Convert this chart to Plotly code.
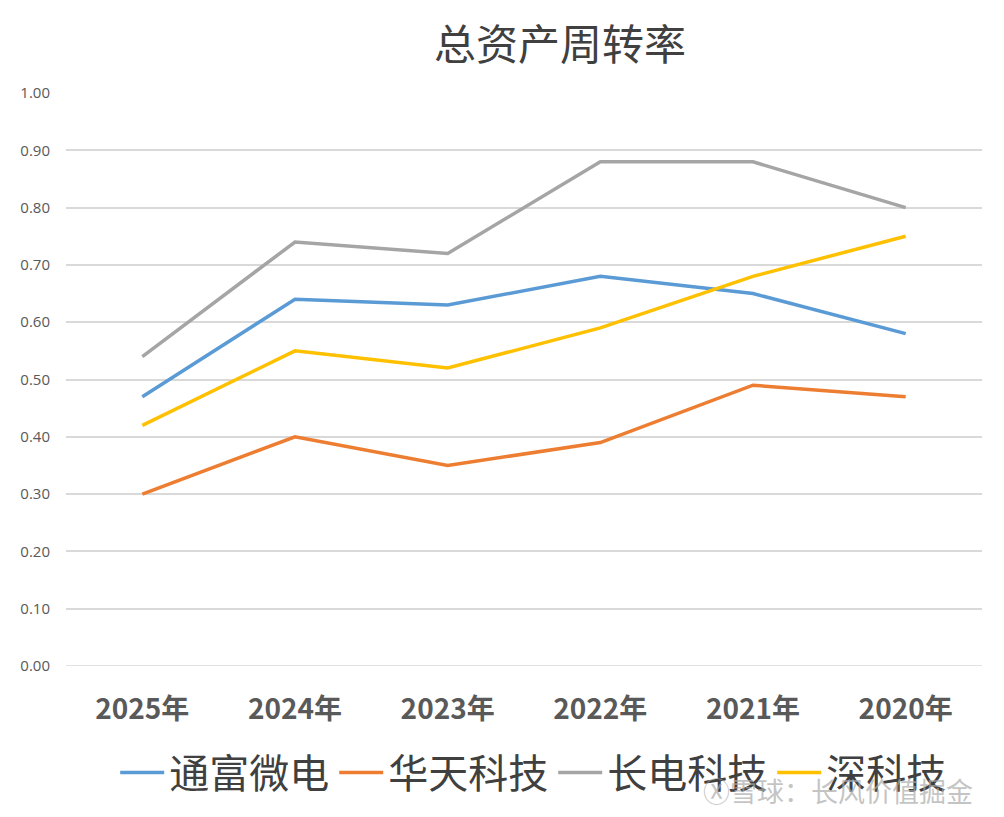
import plotly.graph_objects as go

categories = ["2025年", "2024年", "2023年", "2022年", "2021年", "2020年"]
tongfu = [0.47, 0.64, 0.63, 0.68, 0.65, 0.58]
huatian = [0.30, 0.40, 0.35, 0.39, 0.49, 0.47]
changdian = [0.54, 0.74, 0.72, 0.88, 0.88, 0.80]
shenke = [0.42, 0.55, 0.52, 0.59, 0.68, 0.75]
series_names = ["通富微电", "华天科技", "长电科技", "深科技"]
colors = ["#5B9BD5", "#ED7D31", "#A5A5A5", "#FFC000"]
yticks = [0.0, 0.1, 0.2, 0.3, 0.4, 0.5, 0.6, 0.7, 0.8, 0.9, 1.0]

W, H = 996, 809
L, R, T, B = 52, 22, 85, 151
PW, PH = W - L - R, H - T - B

fig = go.Figure()
for name, vals, c in zip(series_names, [tongfu, huatian, changdian, shenke], colors):
    fig.add_trace(go.Scatter(x=categories, y=vals, name=name, mode="lines",
                             line=dict(color=c, width=3.5)))

fig.update_layout(
    width=W, height=H,
    margin=dict(l=L, r=R, t=T, b=B),
    paper_bgcolor="white", plot_bgcolor="white",
    font=dict(family="Noto Sans CJK SC", color="#595959"),
    title=dict(text="总资产周转率", x=(552) / W, xanchor="center", y=1 - 37 / H, yanchor="middle",
               font=dict(size=42, color="#404040", family="Noto Sans CJK SC")),
    showlegend=True,
    legend=dict(orientation="h", x=(516 - 8) / W, xanchor="center", y=-(740 - 8 - 658) / PH, yanchor="top",
                font=dict(size=40, color="#404040"), itemwidth=44, tracegroupgap=0,
                bgcolor="rgba(0,0,0,0)"),
    xaxis=dict(type="category", range=[-0.5, 5.5], showgrid=False, showline=False,
               tickfont=dict(size=28, color="#595959", family="Noto Sans CJK SC"),
               ticks="outside", ticklen=18, tickcolor="rgba(0,0,0,0)"),
    yaxis=dict(range=[0, 1.0], tickvals=yticks, tickformat=".2f",
               showgrid=True, gridcolor="#D9D9D9", gridwidth=1.5, zeroline=False,
               showline=False, tickfont=dict(size=15, color="#595959", family="Open Sans"),
               ticks="outside", ticklen=12, tickcolor="rgba(0,0,0,0)"),
)
fig.update_xaxes(ticktext=["<b>%s</b>" % c for c in categories], tickvals=categories)
fig.add_hline(y=0, line=dict(color="#D9D9D9", width=1.5), layer="below")

fig.add_annotation(text="Ⓧ雪球：长风价值掘金", xref="paper", yref="paper",
                   x=1 + (975 - 982) / PW, xanchor="right", y=-(790 - 666) / PH, yanchor="middle",
                   showarrow=False, font=dict(size=27, color="rgba(170,170,170,0.7)",
                                              family="Noto Sans CJK SC"))

fig.write_html("out.html")
